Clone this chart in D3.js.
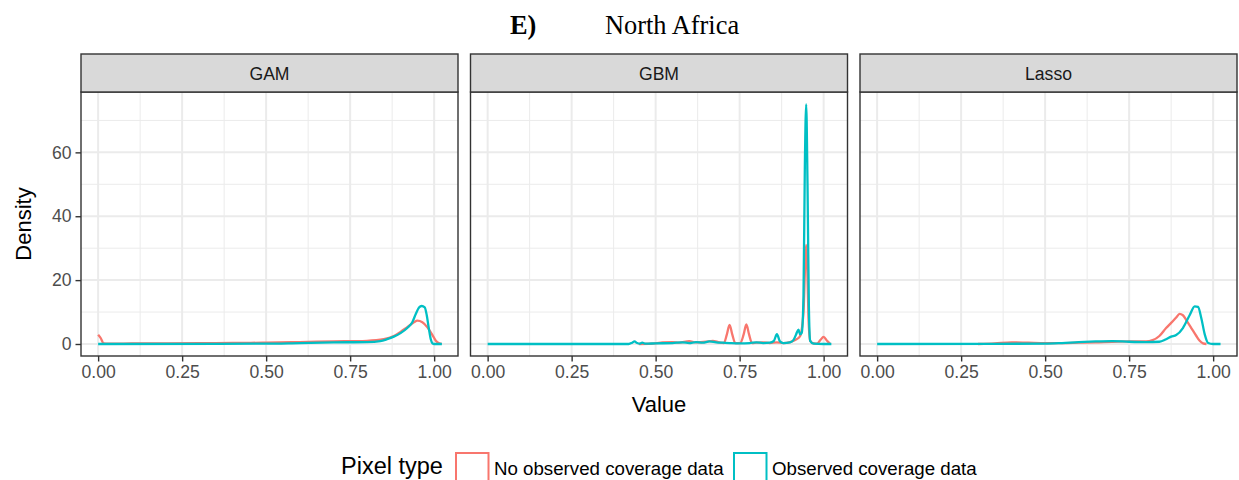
<!DOCTYPE html>
<html><head><meta charset="utf-8">
<script src="https://cdn.jsdelivr.net/npm/d3@7"></script>
<style>body{margin:0;background:#fff}svg{display:block}</style>
</head><body>
<svg id="c" width="1239" height="480"></svg>
<script>
// ---- data ----
const panels = ["GAM", "GBM", "Lasso"];
const seriesNames = ["No observed coverage data", "Observed coverage data"];
const seriesColors = ["#F8766D", "#00BFC4"];
const xTicks = [0, 0.25, 0.5, 0.75, 1];
const xTickLabels = ["0.00", "0.25", "0.50", "0.75", "1.00"];
const yTicks = [0, 20, 40, 60];
const yTickLabels = ["0", "20", "40", "60"];

const gamNoObsX = [0, 0.008, 0.016, 0.03, 0.1, 0.2, 0.3, 0.4, 0.5, 0.6, 0.7, 0.8, 0.85, 0.88, 0.9, 0.92, 0.94, 0.95, 0.965, 0.98, 0.995, 1.005, 1.015, 1.022];
const gamNoObsY = [2.9, 1.8, 0.2, 0.1, 0.15, 0.2, 0.25, 0.35, 0.4, 0.6, 0.8, 1.0, 1.5, 2.5, 3.8, 5.3, 6.8, 7.3, 6.8, 5.2, 2.8, 1.0, 0.2, 0];
const gamObsX = [0, 0.5, 0.6, 0.7, 0.8, 0.84, 0.86, 0.88, 0.9, 0.92, 0.935, 0.945, 0.955, 0.963, 0.972, 0.978, 0.984, 0.99, 0.995, 1.0, 1.023];
const gamObsY = [0, 0.1, 0.3, 0.5, 0.6, 0.9, 1.5, 2.3, 3.4, 5.0, 6.8, 9.3, 11.4, 11.9, 11.5, 9.0, 5.0, 1.5, 0.2, 0, 0];

const gbmNoObsX = [0.45, 0.5, 0.52, 0.55, 0.57, 0.6, 0.62, 0.65, 0.67, 0.69, 0.703, 0.712, 0.72, 0.728, 0.737, 0.752, 0.762, 0.77, 0.778, 0.787, 0.8, 0.82, 0.84, 0.86, 0.88, 0.9, 0.92, 0.93, 0.94, 0.945, 0.948, 0.951, 0.955, 0.96, 0.97, 0.98, 0.99, 1.0, 1.01, 1.02];
const gbmNoObsY = [0, 0.2, 0.5, 0.6, 0.4, 0.9, 0.5, 0.7, 1.0, 0.5, 0.3, 3.0, 6.0, 3.0, 0.3, 0.3, 3.0, 6.1, 3.0, 0.3, 0.4, 0.5, 0.3, 0.5, 0.3, 0.6, 1.5, 2.5, 10, 25, 31, 25, 8, 1, 0.2, 0.1, 1.2, 2.2, 1.0, 0];
const gbmObsX = [0, 0.42, 0.43, 0.437, 0.445, 0.452, 0.46, 0.47, 0.5, 0.55, 0.58, 0.6, 0.62, 0.64, 0.66, 0.68, 0.7, 0.72, 0.75, 0.78, 0.8, 0.82, 0.84, 0.852, 0.861, 0.87, 0.88, 0.9, 0.91, 0.918, 0.925, 0.93, 0.935, 0.94, 0.944, 0.948, 0.952, 0.956, 0.96, 0.97, 1.0, 1.023];
const gbmObsY = [0, 0, 0.4, 0.8, 0.3, 0.1, 0.4, 0.1, 0.2, 0.3, 0.5, 0.3, 0.6, 0.4, 0.8, 0.5, 0.4, 0.3, 0.2, 0.3, 0.5, 0.3, 0.4, 1.0, 3.1, 0.8, 0.3, 0.5, 1.2, 3.0, 4.5, 3.0, 3.5, 15, 55, 75, 50, 12, 1, 0.1, 0, 0];

const lassoNoObsX = [0.3, 0.35, 0.4, 0.45, 0.5, 0.55, 0.6, 0.65, 0.7, 0.75, 0.8, 0.82, 0.84, 0.86, 0.875, 0.89, 0.9, 0.91, 0.92, 0.935, 0.95, 0.96, 0.97, 0.98];
const lassoNoObsY = [0, 0.2, 0.5, 0.4, 0.3, 0.3, 0.4, 0.5, 0.7, 0.8, 0.8, 1.2, 2.5, 5.0, 6.6, 8.3, 9.4, 9.0, 7.5, 5.0, 2.5, 1.0, 0.2, 0];
const lassoObsX = [0, 0.5, 0.55, 0.6, 0.65, 0.7, 0.75, 0.8, 0.84, 0.86, 0.875, 0.89, 0.91, 0.93, 0.945, 0.955, 0.965, 0.975, 0.985, 1.0, 1.022];
const lassoObsY = [0, 0.1, 0.3, 0.6, 0.8, 0.9, 0.7, 0.6, 0.7, 1.5, 2.3, 2.8, 5.0, 9.0, 11.8, 11.6, 8.0, 3.0, 0.3, 0, 0];

const panelData = [
  [[gamNoObsX, gamNoObsY], [gamObsX, gamObsY]],
  [[gbmNoObsX, gbmNoObsY], [gbmObsX, gbmObsY]],
  [[lassoNoObsX, lassoNoObsY], [lassoObsX, lassoObsY]]
];

// ---- layout ----
const svg = d3.select("#c");
const sans = "'Liberation Sans', Arial, Helvetica, sans-serif";
const serif = "'Liberation Serif', 'Times New Roman', serif";
const panelLefts = [81, 470.5, 860];
const panelW = 377;
const stripTop = 54, stripBot = 92, plotBot = 356;

const x = d3.scaleLinear().domain([-0.051, 1.071]);
const y = d3.scaleLinear().domain([-3.76, 78.9]).range([plotBot, stripBot]);

// title
const title = svg.append("text").attr("y", 34).attr("font-family", serif).attr("font-size", 26.4).attr("fill", "#000");
title.append("tspan").attr("x", 510).attr("font-weight", "bold").text("E)");
title.append("tspan").attr("x", 605).text("North Africa");

panels.forEach((name, i) => {
  const L = panelLefts[i];
  x.range([L, L + panelW]);
  const g = svg.append("g");
  g.append("rect").attr("x", L).attr("y", stripBot).attr("width", panelW).attr("height", plotBot - stripBot).attr("fill", "#fff");
  const xMinor = [0.125, 0.375, 0.625, 0.875];
  const yMinor = [10, 30, 50, 70];
  g.selectAll(null).data(xMinor).join("line")
    .attr("x1", d => x(d)).attr("x2", d => x(d)).attr("y1", stripBot).attr("y2", plotBot)
    .attr("stroke", "#EBEBEB").attr("stroke-width", 1);
  g.selectAll(null).data(yMinor).join("line")
    .attr("x1", L).attr("x2", L + panelW).attr("y1", d => y(d)).attr("y2", d => y(d))
    .attr("stroke", "#EBEBEB").attr("stroke-width", 1);
  g.selectAll(null).data(xTicks).join("line")
    .attr("x1", d => x(d)).attr("x2", d => x(d)).attr("y1", stripBot).attr("y2", plotBot)
    .attr("stroke", "#EBEBEB").attr("stroke-width", 2);
  g.selectAll(null).data(yTicks).join("line")
    .attr("x1", L).attr("x2", L + panelW).attr("y1", d => y(d)).attr("y2", d => y(d))
    .attr("stroke", "#EBEBEB").attr("stroke-width", 2);

  const line = d3.line().x(d => x(d[0])).y(d => y(d[1])).curve(d3.curveMonotoneX);
  panelData[i].forEach((s, k) => {
    const pts = s[0].map((v, j) => [v, s[1][j]]);
    g.append("path").attr("d", line(pts)).attr("fill", "none")
      .attr("stroke", seriesColors[k]).attr("stroke-width", 2.3).attr("stroke-linejoin", "round");
  });

  g.append("rect").attr("x", L).attr("y", stripBot).attr("width", panelW).attr("height", plotBot - stripBot)
    .attr("fill", "none").attr("stroke", "#333").attr("stroke-width", 1.4);
  g.append("rect").attr("x", L).attr("y", stripTop).attr("width", panelW).attr("height", stripBot - stripTop)
    .attr("fill", "#D9D9D9").attr("stroke", "#333").attr("stroke-width", 1.4);
  g.append("text").attr("x", L + panelW / 2).attr("y", 80).attr("text-anchor", "middle")
    .attr("font-family", sans).attr("font-size", 17.6).attr("fill", "#1A1A1A").text(name);

  const xa = g.append("g").attr("transform", `translate(0,${plotBot})`)
    .call(d3.axisBottom(x).tickValues(xTicks).tickFormat((d, j) => xTickLabels[j]).tickSize(5.5).tickPadding(4));
  xa.select(".domain").remove();
  xa.selectAll("line").attr("stroke", "#333").attr("stroke-width", 1.4);
  xa.selectAll("text").attr("font-family", sans).attr("font-size", 17.6).attr("fill", "#4D4D4D");

  if (i === 0) {
    const ya = g.append("g").attr("transform", `translate(${L},0)`)
      .call(d3.axisLeft(y).tickValues(yTicks).tickFormat((d, j) => yTickLabels[j]).tickSize(5.5).tickPadding(4));
    ya.select(".domain").remove();
    ya.selectAll("line").attr("stroke", "#333").attr("stroke-width", 1.4);
    ya.selectAll("text").attr("font-family", sans).attr("font-size", 17.6).attr("fill", "#4D4D4D");
  }
});

svg.append("text").attr("transform", "translate(31,224) rotate(-90)").attr("text-anchor", "middle")
  .attr("font-family", sans).attr("font-size", 22).attr("fill", "#000").text("Density");
svg.append("text").attr("x", 659).attr("y", 412).attr("text-anchor", "middle")
  .attr("font-family", sans).attr("font-size", 22).attr("fill", "#000").text("Value");

// legend
const leg = svg.append("g");
leg.append("text").attr("x", 341).attr("y", 474).attr("font-family", sans).attr("font-size", 23.5).attr("fill", "#000").text("Pixel type");
const keyX = [455, 733];
const labX = [494, 772];
seriesNames.forEach((n, k) => {
  leg.append("rect").attr("x", keyX[k] + 1).attr("y", 453).attr("width", 32.5).attr("height", 32.5)
    .attr("fill", "#fff").attr("stroke", seriesColors[k]).attr("stroke-width", 2);
  leg.append("text").attr("x", labX[k]).attr("y", 475).attr("font-family", sans).attr("font-size", 18.7).attr("fill", "#000").text(n);
});
</script>
</body></html>
